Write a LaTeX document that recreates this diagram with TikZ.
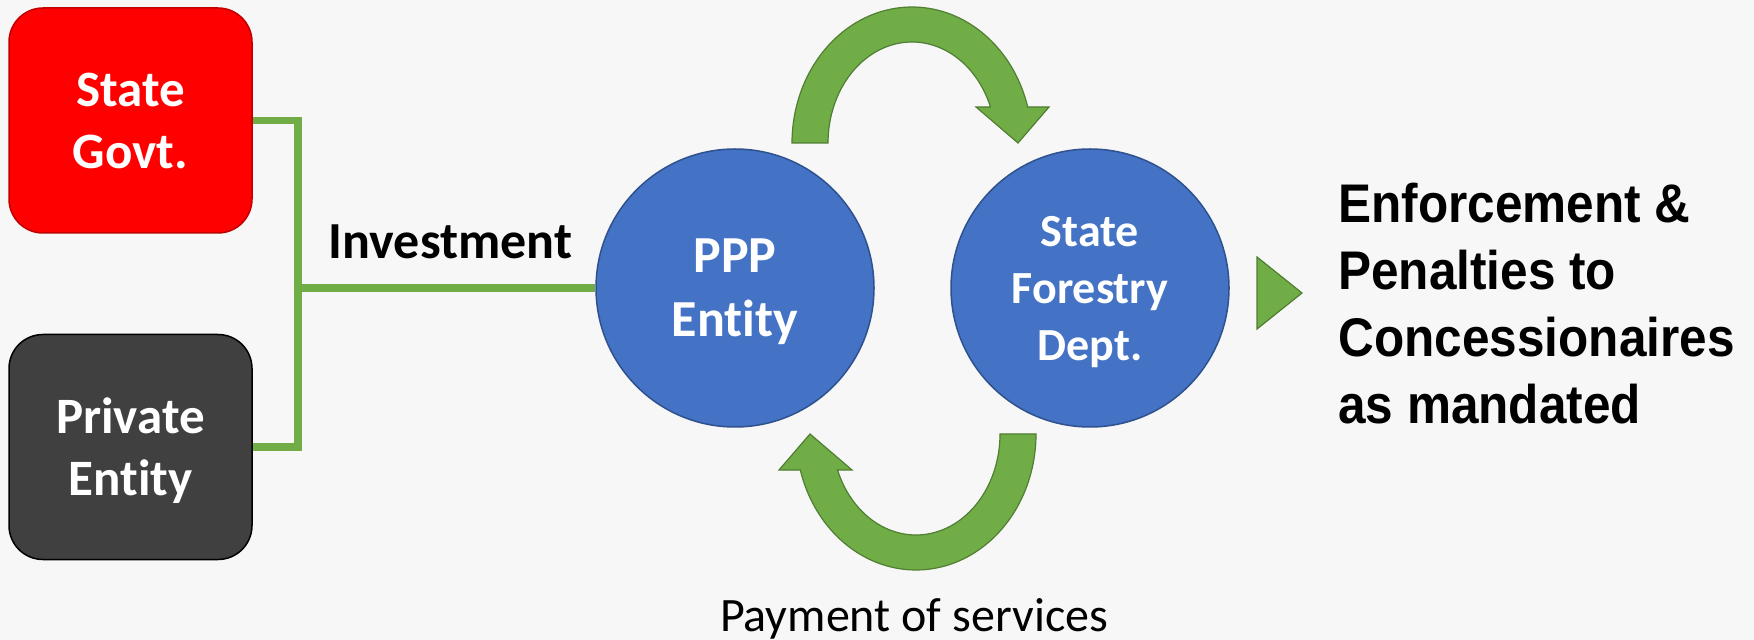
\documentclass[tikz,border=0pt]{standalone}
\usepackage{fontspec}
\setmainfont{Carlito}[Ligatures={NoCommon}]
\newfontfamily\robo{Liberation Sans}[FakeStretch=0.91]
\definecolor{bgc}{HTML}{F7F7F7}
\definecolor{redf}{HTML}{FF0000}
\definecolor{redd}{HTML}{C00000}
\definecolor{grayf}{HTML}{404040}
\definecolor{bluef}{HTML}{4472C4}
\definecolor{blued}{HTML}{2F528F}
\definecolor{greenf}{HTML}{70AD47}
\definecolor{greend}{HTML}{507E32}
\begin{document}
\begin{tikzpicture}[x=0.5pt,y=-0.5pt,
  box/.style={rectangle, rounded corners=17pt, minimum width=121.5pt, minimum height=112.5pt,
    inner sep=0pt, line width=0.75pt, text=white, align=center,
    font=\bfseries\fontsize{25.5}{31}\selectfont},
  disc/.style={circle, minimum size=139pt, inner sep=0pt, fill=bluef, draw=blued,
    line width=0.75pt, text=white, align=center},
  link/.style={draw=greenf, line width=3.6pt},
  gshape/.style={fill=greenf, draw=greend, line width=0.6pt, line join=miter},
  lbl/.style={inner sep=0pt, text=black},
  greenloop/.pic={
    \filldraw[gshape] plot[domain=180:15.35, samples=80] ({120*cos(\x)},{-136*sin(\x)})
      -- (137,-36) -- (106,0) -- (64,-36)
      -- plot[domain=20.88:180, samples=80] ({84*cos(\x)},{-101*sin(\x)}) -- cycle;
  }]
\fill[bgc] (0,0) rectangle (1754,640);
\useasboundingbox (0,0) rectangle (1754,640);

\node[box, fill=redf, draw=redd] (sg) at (130.5,120.5) {State\\Govt.};
\node[box, fill=grayf, draw=black] (pe) at (130.5,447) {Private\\\smash{Entity}};
\node[disc, font=\bfseries\fontsize{26}{32}\selectfont] (ppp) at (735,288) {PPP\\\smash{Entity}};
\node[disc, font=\bfseries\fontsize{23}{28.5}\selectfont] (sfd) at (1090,288) {State\\Forestry\\\smash{Dept.}};

\coordinate (j) at (298,288);
\draw[link] (sg.east) -| (j) |- (pe.east);
\draw[link] (j) -- (ppp.west);

\node[lbl, anchor=base, font=\bfseries\fontsize{26}{31}\selectfont] (inv) at (450.5,259) {Investment};
\node[lbl, anchor=base, font=\fontsize{24}{29}\selectfont] (pay) at (914,631) {Payment of services};
\node[lbl, anchor=west, align=left, font=\robo\bfseries\fontsize{27.2}{33.5}\selectfont] (enf) at (1338,304)
  {Enforcement \&\\Penalties to\\Concessionaires\\as mandated};

\pic at (912,143) {greenloop};
\pic[rotate=180] at (916,434) {greenloop};

\filldraw[gshape] (1257,257) -- (1302,293) -- (1257,329) -- cycle;
\end{tikzpicture}
\end{document}
